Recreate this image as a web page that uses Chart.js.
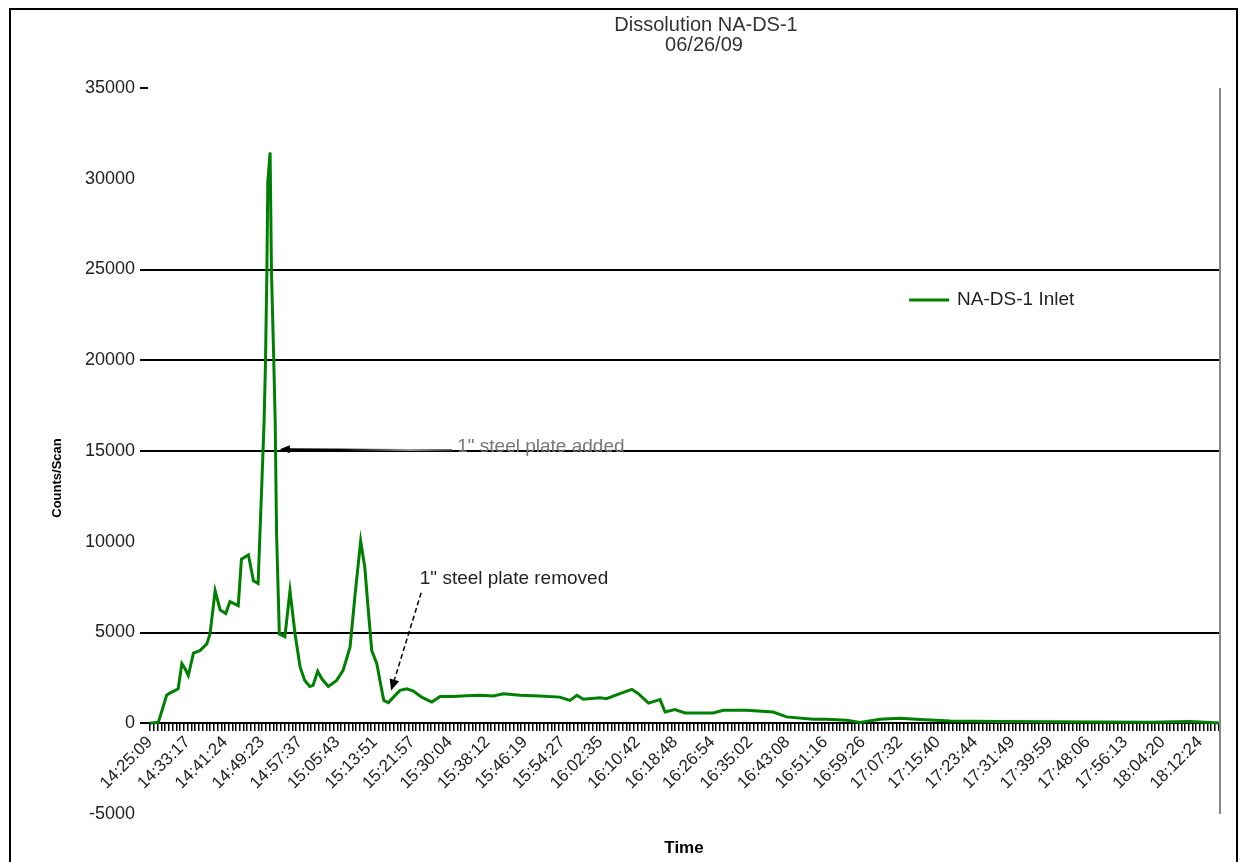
<!DOCTYPE html>
<html>
<head>
<meta charset="utf-8">
<script src="https://cdn.jsdelivr.net/npm/chart.js@4.4.0/dist/chart.umd.min.js"></script>
<style>
  html, body { margin: 0; padding: 0; background: #fff; }
  #wrap { position: relative; width: 1246px; height: 862px; }
</style>
</head>
<body>
<div id="wrap"><canvas id="grafico" width="1246" height="862"></canvas></div>
<script>
// Etiquetas del eje X (hora del escaneo)
const etiquetasHora = [
  '14:25:09', '14:33:17', '14:41:24', '14:49:23', '14:57:37', '15:05:43', '15:13:51',
  '15:21:57', '15:30:04', '15:38:12', '15:46:19', '15:54:27', '16:02:35', '16:10:42',
  '16:18:48', '16:26:54', '16:35:02', '16:43:08', '16:51:16', '16:59:26', '17:07:32',
  '17:15:40', '17:23:44', '17:31:49', '17:39:59', '17:48:06', '17:56:13', '18:04:20',
  '18:12:24'
];

// Minutos desde 14:25:09
const tiempos = [
  0, 1.8, 2.5, 3.6, 4.3, 6.1, 6.9, 7.6, 8.3, 9.4, 10.8, 12.3, 13.0, 14.1, 15.2, 16.4,
  17.3, 19.1, 19.8, 21.3, 22.4, 23.4, 24.2, 24.7, 25.0, 25.3, 25.5, 26.0, 26.3, 26.8,
  27.1, 27.4, 28.0, 29.2, 30.3, 31.4, 32.5, 33.5, 34.6, 35.3, 36.3, 37.2, 38.6, 40.4,
  41.8, 43.3, 44.4, 45.6, 46.5, 47.2, 48.0, 49.1, 49.9, 50.6, 51.6, 52.7, 54.1, 55.6,
  57.0, 58.8, 61.0, 62.8, 65.6, 68.5, 71.4, 74.3, 76.5, 80.1, 84.4, 88.7, 90.9, 92.4,
  93.8, 97.4, 98.8, 101.7, 104.3, 105.7, 107.9, 109.3, 110.4, 111.5, 113.6, 115.8,
  121.9, 124.1, 129.1, 134.9, 137.8, 143.5, 146.4, 150.8, 153.7, 158.0, 162.3, 166.7,
  173.2, 184.0, 194.8, 205.6, 216.4, 225.1, 231.6
];

// Counts/Scan (NA-DS-1 Inlet)
const cuentas = [
  0, 50, 620, 1540, 1660, 1900, 3280, 3000, 2630, 3860, 4000, 4370, 4920, 7300, 6240, 6050,
  6700, 6480, 9040, 9280, 7850, 7700, 13150, 16630, 19920, 24860, 29800, 31450, 24800, 19920,
  16630, 10430, 4920, 4770, 7300, 4920, 3090, 2360, 2030, 2085, 2870, 2450, 2030, 2360,
  2910, 4190, 7120, 10040, 8580, 6380, 4000, 3280, 2180, 1260, 1140, 1440, 1810, 1900,
  1770, 1440, 1170, 1480, 1480, 1520, 1540, 1500, 1630, 1540, 1500, 1440, 1260, 1540,
  1320, 1410, 1350, 1630, 1870, 1630, 1110, 1220, 1300, 620, 750, 570,
  570, 710, 710, 620, 350, 220, 220, 165, 40, 220, 275, 200,
  120, 100, 80, 70, 60, 90, 20
];

// Lineas horizontales que se ven en la imagen
const lineasVisibles = [0, 5000, 15000, 20000, 25000];

function aMinutos(hora) {
  const [h, m, s] = hora.split(':').map(Number);
  return h * 60 + m + s / 60;
}
const inicio = aMinutos(etiquetasHora[0]);
const posEtiquetas = etiquetasHora.map(h => aMinutos(h) - inicio);

// marcas menores: 10 por intervalo de etiqueta
const X_MIN = -0.43, X_MAX = 231.6;
const marcas = [];
for (let i = 0; i < posEtiquetas.length; i++) {
  const a = posEtiquetas[i];
  const b = i + 1 < posEtiquetas.length ? posEtiquetas[i + 1] : a + (a - posEtiquetas[i - 1]);
  for (let k = 0; k < 10; k++) {
    const v = a + (b - a) * k / 10;
    if (v <= X_MAX) marcas.push(v);
  }
}

const fuente = 'Liberation Sans, Arial, sans-serif';

const dibujosExtra = {
  id: 'dibujosExtra',
  afterDraw(chart) {
    const { ctx, chartArea, scales } = chart;
    const x = scales.x, y = scales.y;
    ctx.save();

    // marco exterior
    ctx.strokeStyle = '#000';
    ctx.lineWidth = 2;
    ctx.beginPath();
    ctx.moveTo(10, 870);
    ctx.lineTo(10, 9);
    ctx.lineTo(1237, 9);
    ctx.lineTo(1237, 870);
    ctx.stroke();

    // borde derecho del area
    ctx.strokeStyle = '#888';
    ctx.lineWidth = 2;
    ctx.beginPath();
    ctx.moveTo(chartArea.right, chartArea.top);
    ctx.lineTo(chartArea.right, chartArea.bottom);
    ctx.stroke();

    // titulo
    ctx.fillStyle = '#333';
    ctx.font = '20px ' + fuente;
    ctx.textAlign = 'center';
    ctx.textBaseline = 'middle';
    ctx.fillText('Dissolution NA-DS-1', 706, 25);
    ctx.fillText('06/26/09', 704, 45);

    // titulo eje Y
    ctx.save();
    ctx.translate(57, 478);
    ctx.rotate(-Math.PI / 2);
    ctx.fillStyle = '#000';
    ctx.font = 'bold 13px ' + fuente;
    ctx.fillText('Counts/Scan', 0, 0);
    ctx.restore();

    // leyenda
    const lx = chartArea.left + (chartArea.right - chartArea.left) * 0.71;
    const ly = chartArea.top + 212;
    ctx.strokeStyle = '#008000';
    ctx.lineWidth = 3;
    ctx.beginPath();
    ctx.moveTo(lx, ly);
    ctx.lineTo(lx + 40, ly);
    ctx.stroke();
    ctx.fillStyle = '#222';
    ctx.font = '19px ' + fuente;
    ctx.textAlign = 'left';
    ctx.fillText(chart.data.datasets[0].label, lx + 48, ly);

    // flecha: placa añadida
    const p1 = { x: x.getPixelForValue(28.1), y: y.getPixelForValue(15090) };
    const c1 = { x: x.getPixelForValue(65.4), y: y.getPixelForValue(15040) };
    const grad = ctx.createLinearGradient(p1.x, 0, c1.x, 0);
    grad.addColorStop(0, '#000');
    grad.addColorStop(0.35, '#000');
    grad.addColorStop(0.75, '#999');
    grad.addColorStop(1, '#333');
    ctx.strokeStyle = grad;
    ctx.fillStyle = '#000';
    ctx.lineWidth = 2;
    ctx.beginPath();
    ctx.moveTo(c1.x, c1.y);
    ctx.lineTo(p1.x + 6, p1.y);
    ctx.stroke();
    ctx.beginPath();
    ctx.moveTo(p1.x, p1.y);
    ctx.lineTo(p1.x + 10, p1.y - 4);
    ctx.lineTo(p1.x + 10, p1.y + 4);
    ctx.closePath();
    ctx.fill();
    ctx.fillStyle = '#777';
    ctx.font = '19px ' + fuente;
    ctx.fillText('1" steel plate added', x.getPixelForValue(66.5), y.getPixelForValue(15260));

    // flecha: placa retirada
    const p2 = { x: x.getPixelForValue(52.2), y: y.getPixelForValue(1810) };
    const c2 = { x: x.getPixelForValue(58.7), y: y.getPixelForValue(7190) };
    const ang = Math.atan2(p2.y - c2.y, p2.x - c2.x);
    ctx.strokeStyle = '#000';
    ctx.lineWidth = 1.5;
    ctx.setLineDash([5, 3]);
    ctx.beginPath();
    ctx.moveTo(c2.x, c2.y);
    ctx.lineTo(p2.x - 8 * Math.cos(ang), p2.y - 8 * Math.sin(ang));
    ctx.stroke();
    ctx.setLineDash([]);
    ctx.fillStyle = '#000';
    ctx.beginPath();
    ctx.moveTo(p2.x, p2.y);
    ctx.lineTo(p2.x - 11 * Math.cos(ang) + 5 * Math.sin(ang), p2.y - 11 * Math.sin(ang) - 5 * Math.cos(ang));
    ctx.lineTo(p2.x - 11 * Math.cos(ang) - 5 * Math.sin(ang), p2.y - 11 * Math.sin(ang) + 5 * Math.cos(ang));
    ctx.closePath();
    ctx.fill();
    ctx.fillStyle = '#222';
    ctx.font = '19px ' + fuente;
    ctx.fillText('1" steel plate removed', x.getPixelForValue(58.4), y.getPixelForValue(7960));

    ctx.restore();
  }
};

const ctx = document.getElementById('grafico').getContext('2d');
new Chart(ctx, {
  type: 'line',
  data: {
    datasets: [{
      label: 'NA-DS-1 Inlet',
      data: tiempos.map((t, i) => ({ x: t, y: cuentas[i] })),
      borderColor: '#008000',
      backgroundColor: '#008000',
      borderWidth: 3,
      pointRadius: 0,
      tension: 0
    }]
  },
  options: {
    responsive: false,
    animation: false,
    layout: { padding: { left: 0, top: 88, right: 26, bottom: 48 } },
    plugins: {
      legend: { display: false },
      title: { display: false },
      tooltip: { enabled: false }
    },
    scales: {
      x: {
        type: 'linear',
        position: { y: 0 },
        min: X_MIN,
        max: X_MAX,
        afterBuildTicks: scale => { scale.ticks = marcas.map(v => ({ value: v })); },
        ticks: {
          autoSkip: false,
          minRotation: 45,
          maxRotation: 45,
          color: '#222',
          font: { family: fuente, size: 17 },
          padding: 2,
          callback: value => {
            const i = posEtiquetas.findIndex(p => Math.abs(p - value) < 1e-6);
            return i >= 0 ? etiquetasHora[i] : '';
          }
        },
        grid: { drawOnChartArea: false, tickLength: 7, color: '#000', lineWidth: 1.5 },
        border: { display: true, color: '#000', width: 2 },
        title: {
          display: true,
          text: 'Time',
          color: '#000',
          font: { family: fuente, size: 17, weight: 'bold' },
          padding: { top: 43, bottom: 0 }
        }
      },
      y: {
        min: -5000,
        max: 35000,
        afterFit: scale => { scale.width = 148; },
        ticks: {
          stepSize: 5000,
          color: '#222',
          font: { family: fuente, size: 18 },
          padding: 5,
          callback: value => String(value)
        },
        grid: {
          color: c => lineasVisibles.includes(c.tick.value) ? '#000' : 'rgba(0,0,0,0)',
          tickColor: c => (lineasVisibles.includes(c.tick.value) || c.tick.value === 35000) ? '#000' : 'rgba(0,0,0,0)',
          tickLength: 8,
          lineWidth: 2
        },
        border: { display: false }
      }
    }
  },
  plugins: [dibujosExtra]
});
</script>
</body>
</html>
